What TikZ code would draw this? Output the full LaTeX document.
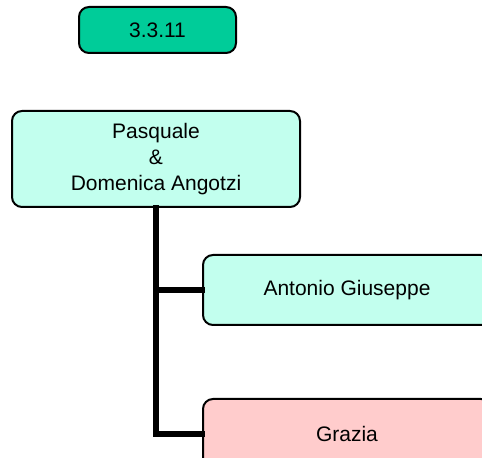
\documentclass[tikz,border=0pt]{standalone}
\usepackage{fontspec}
\setmainfont{Liberation Sans}
\usepackage{xcolor}
\usepackage{tikz}
\definecolor{numgreen}{HTML}{00CC99}
\definecolor{kidcyan}{HTML}{C2FFEE}
\definecolor{kidpink}{HTML}{FFCCCC}
\tikzset{
    famBox/.style={draw=black, line width=1pt, rounded corners=5pt, inner sep=0pt,
        align=center, font=\fontsize{10.5}{13}\selectfont},
    famLink/.style={line width=2.8pt, line cap=rect}
}

\begin{document}
\begin{tikzpicture}[x=0.5pt, y=-0.5pt]
    \useasboundingbox (0, 0) rectangle (482, 458);
    \clip (0, 0) rectangle (482, 458);

    \node[famBox, fill=numgreen, minimum width=78.5pt, minimum height=23pt] (num) at (157.5, 30) {3.3.11};

    \node[famBox, fill=kidcyan, minimum width=144pt, minimum height=48pt] (pasq) at (156, 159)
        {Pasquale\\\&\\Domenica Angotzi};

    \node[famBox, fill=kidcyan, minimum width=144pt, minimum height=35pt] (anton) at (347, 290) {Antonio Giuseppe};
    \node[famBox, fill=kidpink, minimum width=144pt, minimum height=35pt] (grazia) at (347, 434) {Grazia};

%links
    \draw[famLink] (pasq.south) |- (grazia.west);
    \draw[famLink] (pasq.south |- anton.west) -- (anton.west);

\end{tikzpicture}
\end{document}
